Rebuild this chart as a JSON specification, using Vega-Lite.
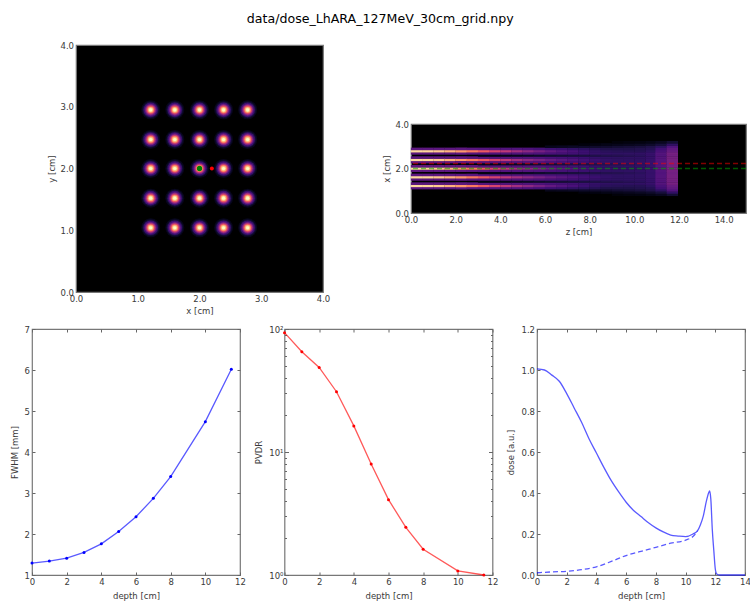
{"$schema":"https://vega.github.io/schema/vega-lite/v6.json","padding":{"left":9,"right":4,"top":12,"bottom":5},"title":{"text":"data/dose_LhARA_127MeV_30cm_grid.npy","font":"DejaVu Sans","fontSize":12.6,"fontWeight":"normal","color":"#000","offset":15,"anchor":"middle"},"config":{"font":"DejaVu Sans","view":{"stroke":"#777","strokeWidth":1.2},"axis":{"labelFont":"DejaVu Sans","titleFont":"DejaVu Sans","labelFontSize":8.5,"titleFontSize":8.5,"titleFontWeight":"normal","labelColor":"#3a3a3a","titleColor":"#3a3a3a","grid":false,"domain":false,"tickColor":"#666","tickSize":-3,"labelPadding":5.5,"titlePadding":5,"labelOverlap":false,"labelFlush":false}},"spacing":8,"vconcat":[{"spacing":0,"hconcat":[{"data":{"values":[]},"mark":{"type":"rule"},"encoding":{},"width":14,"height":10,"view":{"stroke":null}},{"spacing":88,"bounds":"flush","center":true,"hconcat":[{"width":247,"height":247,"view":{"fill":"#000","stroke":"#777"},"data":{"values":[{"x":1.21,"y":1.04},{"x":1.6,"y":1.04},{"x":2,"y":1.04},{"x":2.39,"y":1.04},{"x":2.78,"y":1.04},{"x":1.21,"y":1.52},{"x":1.6,"y":1.52},{"x":2,"y":1.52},{"x":2.39,"y":1.52},{"x":2.78,"y":1.52},{"x":1.21,"y":2},{"x":1.6,"y":2},{"x":2,"y":2},{"x":2.39,"y":2},{"x":2.78,"y":2},{"x":1.21,"y":2.47},{"x":1.6,"y":2.47},{"x":2,"y":2.47},{"x":2.39,"y":2.47},{"x":2.78,"y":2.47},{"x":1.21,"y":2.95},{"x":1.6,"y":2.95},{"x":2,"y":2.95},{"x":2.39,"y":2.95},{"x":2.78,"y":2.95}]},"encoding":{"x":{"field":"x","type":"quantitative","title":"x [cm]","scale":{"domain":[0,4],"nice":false},"axis":{"values":[0,1,2,3,4],"format":".1f","ticks":false,"labelPadding":2.5,"titlePadding":3.5}},"y":{"field":"y","type":"quantitative","title":"y [cm]","scale":{"domain":[0,4],"nice":false},"axis":{"values":[0,1,2,3,4],"format":".1f","ticks":false,"labelPadding":2.5,"titlePadding":3.5}}},"layer":[{"mark":{"type":"circle","size":361,"color":"#07061c","opacity":1}},{"mark":{"type":"circle","size":276,"color":"#140e36","opacity":1}},{"mark":{"type":"circle","size":213,"color":"#3b0f70","opacity":1}},{"mark":{"type":"circle","size":149,"color":"#641a80","opacity":1}},{"mark":{"type":"circle","size":112,"color":"#8c2981","opacity":1}},{"mark":{"type":"circle","size":85,"color":"#b73779","opacity":1}},{"mark":{"type":"circle","size":64,"color":"#de4968","opacity":1}},{"mark":{"type":"circle","size":46,"color":"#f7705c","opacity":1}},{"mark":{"type":"circle","size":34,"color":"#fe9f6d","opacity":1}},{"mark":{"type":"circle","size":21,"color":"#fecf92","opacity":1}},{"mark":{"type":"circle","size":10,"color":"#fcfdbf","opacity":1}},{"data":{"values":[{"x":2,"y":2,"spot":"central"}]},"mark":{"type":"circle","size":28,"color":"#008000","opacity":1}},{"data":{"values":[{"x":2.2,"y":2,"spot":"valley"}]},"mark":{"type":"circle","size":16,"color":"#ff0000","opacity":1}}]},{"width":335,"height":89,"view":{"fill":"#000","stroke":"#777"},"layer":[{"data":{"values":[
{"z":0.25,"x":1.12,"d":0.3},{"z":0.25,"x":1.22,"d":1},{"z":0.25,"x":1.32,"d":0.3},{"z":0.25,"x":1.51,"d":0.3},{"z":0.25,"x":1.61,"d":1},{"z":0.25,"x":1.71,"d":0.3},{"z":0.25,"x":1.9,"d":0.3},{"z":0.25,"x":2,"d":1},{"z":0.25,"x":2.1,"d":0.3},{"z":0.25,"x":2.29,"d":0.3},{"z":0.25,"x":2.39,"d":1},{"z":0.25,"x":2.49,"d":0.3},{"z":0.25,"x":2.68,"d":0.3},{"z":0.25,"x":2.78,"d":1},{"z":0.25,"x":2.88,"d":0.3},
{"z":0.75,"x":1.12,"d":0.3},{"z":0.75,"x":1.22,"d":0.99},{"z":0.75,"x":1.32,"d":0.3},{"z":0.75,"x":1.51,"d":0.3},{"z":0.75,"x":1.61,"d":0.99},{"z":0.75,"x":1.71,"d":0.3},{"z":0.75,"x":1.9,"d":0.3},{"z":0.75,"x":2,"d":0.99},{"z":0.75,"x":2.1,"d":0.3},{"z":0.75,"x":2.29,"d":0.3},{"z":0.75,"x":2.39,"d":0.99},{"z":0.75,"x":2.49,"d":0.3},{"z":0.75,"x":2.68,"d":0.3},{"z":0.75,"x":2.78,"d":0.99},{"z":0.75,"x":2.88,"d":0.3},
{"z":1.25,"x":1.12,"d":0.3},{"z":1.25,"x":1.22,"d":0.96},{"z":1.25,"x":1.32,"d":0.3},{"z":1.25,"x":1.51,"d":0.3},{"z":1.25,"x":1.61,"d":0.96},{"z":1.25,"x":1.71,"d":0.3},{"z":1.25,"x":1.9,"d":0.3},{"z":1.25,"x":2,"d":0.96},{"z":1.25,"x":2.1,"d":0.3},{"z":1.25,"x":2.29,"d":0.3},{"z":1.25,"x":2.39,"d":0.96},{"z":1.25,"x":2.49,"d":0.3},{"z":1.25,"x":2.68,"d":0.3},{"z":1.25,"x":2.78,"d":0.96},{"z":1.25,"x":2.88,"d":0.3},
{"z":1.75,"x":1.12,"d":0.3},{"z":1.75,"x":1.22,"d":0.91},{"z":1.75,"x":1.32,"d":0.3},{"z":1.75,"x":1.51,"d":0.3},{"z":1.75,"x":1.61,"d":0.91},{"z":1.75,"x":1.71,"d":0.3},{"z":1.75,"x":1.9,"d":0.3},{"z":1.75,"x":2,"d":0.91},{"z":1.75,"x":2.1,"d":0.3},{"z":1.75,"x":2.29,"d":0.3},{"z":1.75,"x":2.39,"d":0.91},{"z":1.75,"x":2.49,"d":0.3},{"z":1.75,"x":2.68,"d":0.3},{"z":1.75,"x":2.78,"d":0.91},{"z":1.75,"x":2.88,"d":0.3},
{"z":2.25,"x":1.12,"d":0.3},{"z":2.25,"x":1.22,"d":0.85},{"z":2.25,"x":1.32,"d":0.3},{"z":2.25,"x":1.51,"d":0.3},{"z":2.25,"x":1.61,"d":0.85},{"z":2.25,"x":1.71,"d":0.3},{"z":2.25,"x":1.9,"d":0.3},{"z":2.25,"x":2,"d":0.85},{"z":2.25,"x":2.1,"d":0.3},{"z":2.25,"x":2.29,"d":0.3},{"z":2.25,"x":2.39,"d":0.85},{"z":2.25,"x":2.49,"d":0.3},{"z":2.25,"x":2.68,"d":0.3},{"z":2.25,"x":2.78,"d":0.85},{"z":2.25,"x":2.88,"d":0.3},
{"z":2.75,"x":1.12,"d":0.29},{"z":2.75,"x":1.22,"d":0.78},{"z":2.75,"x":1.32,"d":0.29},{"z":2.75,"x":1.51,"d":0.29},{"z":2.75,"x":1.61,"d":0.78},{"z":2.75,"x":1.71,"d":0.29},{"z":2.75,"x":1.9,"d":0.29},{"z":2.75,"x":2,"d":0.78},{"z":2.75,"x":2.1,"d":0.29},{"z":2.75,"x":2.29,"d":0.29},{"z":2.75,"x":2.39,"d":0.78},{"z":2.75,"x":2.49,"d":0.29},{"z":2.75,"x":2.68,"d":0.29},{"z":2.75,"x":2.78,"d":0.78},{"z":2.75,"x":2.88,"d":0.29},
{"z":3.25,"x":1.12,"d":0.28},{"z":3.25,"x":1.22,"d":0.7},{"z":3.25,"x":1.32,"d":0.28},{"z":3.25,"x":1.42,"d":0.03},{"z":3.25,"x":1.51,"d":0.28},{"z":3.25,"x":1.61,"d":0.7},{"z":3.25,"x":1.71,"d":0.28},{"z":3.25,"x":1.8,"d":0.03},{"z":3.25,"x":1.9,"d":0.28},{"z":3.25,"x":2,"d":0.7},{"z":3.25,"x":2.1,"d":0.28},{"z":3.25,"x":2.2,"d":0.03},{"z":3.25,"x":2.29,"d":0.28},{"z":3.25,"x":2.39,"d":0.7},{"z":3.25,"x":2.49,"d":0.28},{"z":3.25,"x":2.59,"d":0.03},{"z":3.25,"x":2.68,"d":0.28},{"z":3.25,"x":2.78,"d":0.7},{"z":3.25,"x":2.88,"d":0.28},
{"z":3.75,"x":1.12,"d":0.275},{"z":3.75,"x":1.22,"d":0.63},{"z":3.75,"x":1.32,"d":0.275},{"z":3.75,"x":1.42,"d":0.036},{"z":3.75,"x":1.51,"d":0.275},{"z":3.75,"x":1.61,"d":0.63},{"z":3.75,"x":1.71,"d":0.275},{"z":3.75,"x":1.8,"d":0.036},{"z":3.75,"x":1.9,"d":0.275},{"z":3.75,"x":2,"d":0.63},{"z":3.75,"x":2.1,"d":0.275},{"z":3.75,"x":2.2,"d":0.036},{"z":3.75,"x":2.29,"d":0.275},{"z":3.75,"x":2.39,"d":0.63},{"z":3.75,"x":2.49,"d":0.275},{"z":3.75,"x":2.59,"d":0.036},{"z":3.75,"x":2.68,"d":0.275},{"z":3.75,"x":2.78,"d":0.63},{"z":3.75,"x":2.88,"d":0.275},
{"z":4.25,"x":1.12,"d":0.27},{"z":4.25,"x":1.22,"d":0.56},{"z":4.25,"x":1.32,"d":0.27},{"z":4.25,"x":1.42,"d":0.045},{"z":4.25,"x":1.51,"d":0.27},{"z":4.25,"x":1.61,"d":0.56},{"z":4.25,"x":1.71,"d":0.27},{"z":4.25,"x":1.8,"d":0.045},{"z":4.25,"x":1.9,"d":0.27},{"z":4.25,"x":2,"d":0.56},{"z":4.25,"x":2.1,"d":0.27},{"z":4.25,"x":2.2,"d":0.045},{"z":4.25,"x":2.29,"d":0.27},{"z":4.25,"x":2.39,"d":0.56},{"z":4.25,"x":2.49,"d":0.27},{"z":4.25,"x":2.59,"d":0.045},{"z":4.25,"x":2.68,"d":0.27},{"z":4.25,"x":2.78,"d":0.56},{"z":4.25,"x":2.88,"d":0.27},
{"z":4.75,"x":1.12,"d":0.27},{"z":4.75,"x":1.22,"d":0.49},{"z":4.75,"x":1.32,"d":0.27},{"z":4.75,"x":1.42,"d":0.06},{"z":4.75,"x":1.51,"d":0.27},{"z":4.75,"x":1.61,"d":0.49},{"z":4.75,"x":1.71,"d":0.27},{"z":4.75,"x":1.8,"d":0.06},{"z":4.75,"x":1.9,"d":0.27},{"z":4.75,"x":2,"d":0.49},{"z":4.75,"x":2.1,"d":0.27},{"z":4.75,"x":2.2,"d":0.06},{"z":4.75,"x":2.29,"d":0.27},{"z":4.75,"x":2.39,"d":0.49},{"z":4.75,"x":2.49,"d":0.27},{"z":4.75,"x":2.59,"d":0.06},{"z":4.75,"x":2.68,"d":0.27},{"z":4.75,"x":2.78,"d":0.49},{"z":4.75,"x":2.88,"d":0.27},
{"z":5.25,"x":1.12,"d":0.26},{"z":5.25,"x":1.22,"d":0.43},{"z":5.25,"x":1.32,"d":0.27},{"z":5.25,"x":1.42,"d":0.072},{"z":5.25,"x":1.51,"d":0.27},{"z":5.25,"x":1.61,"d":0.43},{"z":5.25,"x":1.71,"d":0.27},{"z":5.25,"x":1.8,"d":0.072},{"z":5.25,"x":1.9,"d":0.27},{"z":5.25,"x":2,"d":0.43},{"z":5.25,"x":2.1,"d":0.27},{"z":5.25,"x":2.2,"d":0.072},{"z":5.25,"x":2.29,"d":0.27},{"z":5.25,"x":2.39,"d":0.43},{"z":5.25,"x":2.49,"d":0.27},{"z":5.25,"x":2.59,"d":0.072},{"z":5.25,"x":2.68,"d":0.27},{"z":5.25,"x":2.78,"d":0.43},{"z":5.25,"x":2.88,"d":0.26},
{"z":5.75,"x":1.12,"d":0.24},{"z":5.75,"x":1.22,"d":0.37},{"z":5.75,"x":1.32,"d":0.263},{"z":5.75,"x":1.42,"d":0.088},{"z":5.75,"x":1.51,"d":0.263},{"z":5.75,"x":1.61,"d":0.38},{"z":5.75,"x":1.71,"d":0.263},{"z":5.75,"x":1.8,"d":0.088},{"z":5.75,"x":1.9,"d":0.263},{"z":5.75,"x":2,"d":0.38},{"z":5.75,"x":2.1,"d":0.263},{"z":5.75,"x":2.2,"d":0.088},{"z":5.75,"x":2.29,"d":0.263},{"z":5.75,"x":2.39,"d":0.38},{"z":5.75,"x":2.49,"d":0.263},{"z":5.75,"x":2.59,"d":0.088},{"z":5.75,"x":2.68,"d":0.263},{"z":5.75,"x":2.78,"d":0.37},{"z":5.75,"x":2.88,"d":0.24},
{"z":6.25,"x":1.02,"d":0.05},{"z":6.25,"x":1.12,"d":0.22},{"z":6.25,"x":1.22,"d":0.32},{"z":6.25,"x":1.32,"d":0.25},{"z":6.25,"x":1.42,"d":0.1},{"z":6.25,"x":1.51,"d":0.25},{"z":6.25,"x":1.61,"d":0.33},{"z":6.25,"x":1.71,"d":0.25},{"z":6.25,"x":1.8,"d":0.1},{"z":6.25,"x":1.9,"d":0.25},{"z":6.25,"x":2,"d":0.335},{"z":6.25,"x":2.1,"d":0.25},{"z":6.25,"x":2.2,"d":0.1},{"z":6.25,"x":2.29,"d":0.25},{"z":6.25,"x":2.39,"d":0.33},{"z":6.25,"x":2.49,"d":0.25},{"z":6.25,"x":2.59,"d":0.1},{"z":6.25,"x":2.68,"d":0.25},{"z":6.25,"x":2.78,"d":0.32},{"z":6.25,"x":2.88,"d":0.22},{"z":6.25,"x":2.98,"d":0.05},
{"z":6.75,"x":1.02,"d":0.06},{"z":6.75,"x":1.12,"d":0.21},{"z":6.75,"x":1.22,"d":0.28},{"z":6.75,"x":1.32,"d":0.24},{"z":6.75,"x":1.42,"d":0.11},{"z":6.75,"x":1.51,"d":0.24},{"z":6.75,"x":1.61,"d":0.295},{"z":6.75,"x":1.71,"d":0.24},{"z":6.75,"x":1.8,"d":0.11},{"z":6.75,"x":1.9,"d":0.24},{"z":6.75,"x":2,"d":0.3},{"z":6.75,"x":2.1,"d":0.24},{"z":6.75,"x":2.2,"d":0.11},{"z":6.75,"x":2.29,"d":0.24},{"z":6.75,"x":2.39,"d":0.295},{"z":6.75,"x":2.49,"d":0.24},{"z":6.75,"x":2.59,"d":0.11},{"z":6.75,"x":2.68,"d":0.24},{"z":6.75,"x":2.78,"d":0.28},{"z":6.75,"x":2.88,"d":0.21},{"z":6.75,"x":2.98,"d":0.06},
{"z":7.25,"x":1.02,"d":0.07},{"z":7.25,"x":1.12,"d":0.19},{"z":7.25,"x":1.22,"d":0.25},{"z":7.25,"x":1.32,"d":0.23},{"z":7.25,"x":1.42,"d":0.12},{"z":7.25,"x":1.51,"d":0.23},{"z":7.25,"x":1.61,"d":0.265},{"z":7.25,"x":1.71,"d":0.23},{"z":7.25,"x":1.8,"d":0.12},{"z":7.25,"x":1.9,"d":0.23},{"z":7.25,"x":2,"d":0.27},{"z":7.25,"x":2.1,"d":0.23},{"z":7.25,"x":2.2,"d":0.12},{"z":7.25,"x":2.29,"d":0.23},{"z":7.25,"x":2.39,"d":0.265},{"z":7.25,"x":2.49,"d":0.23},{"z":7.25,"x":2.59,"d":0.12},{"z":7.25,"x":2.68,"d":0.23},{"z":7.25,"x":2.78,"d":0.25},{"z":7.25,"x":2.88,"d":0.19},{"z":7.25,"x":2.98,"d":0.07},
{"z":7.75,"x":0.92,"d":0.02},{"z":7.75,"x":1.02,"d":0.08},{"z":7.75,"x":1.12,"d":0.175},{"z":7.75,"x":1.22,"d":0.215},{"z":7.75,"x":1.32,"d":0.215},{"z":7.75,"x":1.42,"d":0.13},{"z":7.75,"x":1.51,"d":0.215},{"z":7.75,"x":1.61,"d":0.235},{"z":7.75,"x":1.71,"d":0.215},{"z":7.75,"x":1.8,"d":0.13},{"z":7.75,"x":1.9,"d":0.215},{"z":7.75,"x":2,"d":0.24},{"z":7.75,"x":2.1,"d":0.215},{"z":7.75,"x":2.2,"d":0.13},{"z":7.75,"x":2.29,"d":0.215},{"z":7.75,"x":2.39,"d":0.235},{"z":7.75,"x":2.49,"d":0.215},{"z":7.75,"x":2.59,"d":0.13},{"z":7.75,"x":2.68,"d":0.215},{"z":7.75,"x":2.78,"d":0.215},{"z":7.75,"x":2.88,"d":0.175},{"z":7.75,"x":2.98,"d":0.08},{"z":7.75,"x":3.08,"d":0.02},
{"z":8.25,"x":0.92,"d":0.03},{"z":8.25,"x":1.02,"d":0.085},{"z":8.25,"x":1.12,"d":0.16},{"z":8.25,"x":1.22,"d":0.19},{"z":8.25,"x":1.32,"d":0.2},{"z":8.25,"x":1.42,"d":0.14},{"z":8.25,"x":1.51,"d":0.2},{"z":8.25,"x":1.61,"d":0.215},{"z":8.25,"x":1.71,"d":0.2},{"z":8.25,"x":1.8,"d":0.14},{"z":8.25,"x":1.9,"d":0.2},{"z":8.25,"x":2,"d":0.22},{"z":8.25,"x":2.1,"d":0.2},{"z":8.25,"x":2.2,"d":0.14},{"z":8.25,"x":2.29,"d":0.2},{"z":8.25,"x":2.39,"d":0.215},{"z":8.25,"x":2.49,"d":0.2},{"z":8.25,"x":2.59,"d":0.14},{"z":8.25,"x":2.68,"d":0.2},{"z":8.25,"x":2.78,"d":0.19},{"z":8.25,"x":2.88,"d":0.16},{"z":8.25,"x":2.98,"d":0.085},{"z":8.25,"x":3.08,"d":0.03},
{"z":8.75,"x":0.92,"d":0.04},{"z":8.75,"x":1.02,"d":0.09},{"z":8.75,"x":1.12,"d":0.14},{"z":8.75,"x":1.22,"d":0.17},{"z":8.75,"x":1.32,"d":0.19},{"z":8.75,"x":1.42,"d":0.15},{"z":8.75,"x":1.51,"d":0.19},{"z":8.75,"x":1.61,"d":0.195},{"z":8.75,"x":1.71,"d":0.19},{"z":8.75,"x":1.8,"d":0.15},{"z":8.75,"x":1.9,"d":0.19},{"z":8.75,"x":2,"d":0.2},{"z":8.75,"x":2.1,"d":0.19},{"z":8.75,"x":2.2,"d":0.15},{"z":8.75,"x":2.29,"d":0.19},{"z":8.75,"x":2.39,"d":0.195},{"z":8.75,"x":2.49,"d":0.19},{"z":8.75,"x":2.59,"d":0.15},{"z":8.75,"x":2.68,"d":0.19},{"z":8.75,"x":2.78,"d":0.17},{"z":8.75,"x":2.88,"d":0.14},{"z":8.75,"x":2.98,"d":0.09},{"z":8.75,"x":3.08,"d":0.04},
{"z":9.25,"x":0.82,"d":0.015},{"z":9.25,"x":0.92,"d":0.05},{"z":9.25,"x":1.02,"d":0.1},{"z":9.25,"x":1.12,"d":0.14},{"z":9.25,"x":1.22,"d":0.165},{"z":9.25,"x":1.32,"d":0.185},{"z":9.25,"x":1.42,"d":0.155},{"z":9.25,"x":1.51,"d":0.185},{"z":9.25,"x":1.61,"d":0.185},{"z":9.25,"x":1.71,"d":0.185},{"z":9.25,"x":1.8,"d":0.155},{"z":9.25,"x":1.9,"d":0.185},{"z":9.25,"x":2,"d":0.19},{"z":9.25,"x":2.1,"d":0.185},{"z":9.25,"x":2.2,"d":0.155},{"z":9.25,"x":2.29,"d":0.185},{"z":9.25,"x":2.39,"d":0.185},{"z":9.25,"x":2.49,"d":0.185},{"z":9.25,"x":2.59,"d":0.155},{"z":9.25,"x":2.68,"d":0.185},{"z":9.25,"x":2.78,"d":0.165},{"z":9.25,"x":2.88,"d":0.14},{"z":9.25,"x":2.98,"d":0.1},{"z":9.25,"x":3.08,"d":0.05},{"z":9.25,"x":3.18,"d":0.015},
{"z":9.75,"x":0.82,"d":0.025},{"z":9.75,"x":0.92,"d":0.06},{"z":9.75,"x":1.02,"d":0.11},{"z":9.75,"x":1.12,"d":0.14},{"z":9.75,"x":1.22,"d":0.16},{"z":9.75,"x":1.32,"d":0.187},{"z":9.75,"x":1.42,"d":0.165},{"z":9.75,"x":1.51,"d":0.187},{"z":9.75,"x":1.61,"d":0.185},{"z":9.75,"x":1.71,"d":0.187},{"z":9.75,"x":1.8,"d":0.165},{"z":9.75,"x":1.9,"d":0.187},{"z":9.75,"x":2,"d":0.19},{"z":9.75,"x":2.1,"d":0.187},{"z":9.75,"x":2.2,"d":0.165},{"z":9.75,"x":2.29,"d":0.187},{"z":9.75,"x":2.39,"d":0.185},{"z":9.75,"x":2.49,"d":0.187},{"z":9.75,"x":2.59,"d":0.165},{"z":9.75,"x":2.68,"d":0.187},{"z":9.75,"x":2.78,"d":0.16},{"z":9.75,"x":2.88,"d":0.14},{"z":9.75,"x":2.98,"d":0.11},{"z":9.75,"x":3.08,"d":0.06},{"z":9.75,"x":3.18,"d":0.025},
{"z":10.25,"x":0.82,"d":0.03},{"z":10.25,"x":0.92,"d":0.07},{"z":10.25,"x":1.02,"d":0.12},{"z":10.25,"x":1.12,"d":0.15},{"z":10.25,"x":1.22,"d":0.16},{"z":10.25,"x":1.32,"d":0.19},{"z":10.25,"x":1.42,"d":0.175},{"z":10.25,"x":1.51,"d":0.19},{"z":10.25,"x":1.61,"d":0.185},{"z":10.25,"x":1.71,"d":0.19},{"z":10.25,"x":1.8,"d":0.175},{"z":10.25,"x":1.9,"d":0.19},{"z":10.25,"x":2,"d":0.19},{"z":10.25,"x":2.1,"d":0.19},{"z":10.25,"x":2.2,"d":0.175},{"z":10.25,"x":2.29,"d":0.19},{"z":10.25,"x":2.39,"d":0.185},{"z":10.25,"x":2.49,"d":0.19},{"z":10.25,"x":2.59,"d":0.175},{"z":10.25,"x":2.68,"d":0.19},{"z":10.25,"x":2.78,"d":0.16},{"z":10.25,"x":2.88,"d":0.15},{"z":10.25,"x":2.98,"d":0.12},{"z":10.25,"x":3.08,"d":0.07},{"z":10.25,"x":3.18,"d":0.03},
{"z":10.75,"x":0.82,"d":0.04},{"z":10.75,"x":0.92,"d":0.085},{"z":10.75,"x":1.02,"d":0.14},{"z":10.75,"x":1.12,"d":0.16},{"z":10.75,"x":1.22,"d":0.18},{"z":10.75,"x":1.32,"d":0.205},{"z":10.75,"x":1.42,"d":0.2},{"z":10.75,"x":1.51,"d":0.205},{"z":10.75,"x":1.61,"d":0.205},{"z":10.75,"x":1.71,"d":0.205},{"z":10.75,"x":1.8,"d":0.2},{"z":10.75,"x":1.9,"d":0.205},{"z":10.75,"x":2,"d":0.21},{"z":10.75,"x":2.1,"d":0.205},{"z":10.75,"x":2.2,"d":0.2},{"z":10.75,"x":2.29,"d":0.205},{"z":10.75,"x":2.39,"d":0.205},{"z":10.75,"x":2.49,"d":0.205},{"z":10.75,"x":2.59,"d":0.2},{"z":10.75,"x":2.68,"d":0.205},{"z":10.75,"x":2.78,"d":0.18},{"z":10.75,"x":2.88,"d":0.16},{"z":10.75,"x":2.98,"d":0.14},{"z":10.75,"x":3.08,"d":0.085},{"z":10.75,"x":3.18,"d":0.04},
{"z":11.2,"x":0.82,"d":0.06},{"z":11.2,"x":0.92,"d":0.115},{"z":11.2,"x":1.02,"d":0.18},{"z":11.2,"x":1.12,"d":0.23},{"z":11.2,"x":1.22,"d":0.25},{"z":11.2,"x":1.32,"d":0.28},{"z":11.2,"x":1.42,"d":0.27},{"z":11.2,"x":1.51,"d":0.28},{"z":11.2,"x":1.61,"d":0.28},{"z":11.2,"x":1.71,"d":0.28},{"z":11.2,"x":1.8,"d":0.27},{"z":11.2,"x":1.9,"d":0.28},{"z":11.2,"x":2,"d":0.29},{"z":11.2,"x":2.1,"d":0.28},{"z":11.2,"x":2.2,"d":0.27},{"z":11.2,"x":2.29,"d":0.28},{"z":11.2,"x":2.39,"d":0.28},{"z":11.2,"x":2.49,"d":0.28},{"z":11.2,"x":2.59,"d":0.27},{"z":11.2,"x":2.68,"d":0.28},{"z":11.2,"x":2.78,"d":0.25},{"z":11.2,"x":2.88,"d":0.23},{"z":11.2,"x":2.98,"d":0.18},{"z":11.2,"x":3.08,"d":0.115},{"z":11.2,"x":3.18,"d":0.06},
{"z":11.7,"x":0.82,"d":0.1},{"z":11.7,"x":0.92,"d":0.19},{"z":11.7,"x":1.02,"d":0.27},{"z":11.7,"x":1.12,"d":0.31},{"z":11.7,"x":1.22,"d":0.33},{"z":11.7,"x":1.32,"d":0.37},{"z":11.7,"x":1.42,"d":0.36},{"z":11.7,"x":1.51,"d":0.37},{"z":11.7,"x":1.61,"d":0.37},{"z":11.7,"x":1.71,"d":0.37},{"z":11.7,"x":1.8,"d":0.36},{"z":11.7,"x":1.9,"d":0.37},{"z":11.7,"x":2,"d":0.38},{"z":11.7,"x":2.1,"d":0.37},{"z":11.7,"x":2.2,"d":0.36},{"z":11.7,"x":2.29,"d":0.37},{"z":11.7,"x":2.39,"d":0.37},{"z":11.7,"x":2.49,"d":0.37},{"z":11.7,"x":2.59,"d":0.36},{"z":11.7,"x":2.68,"d":0.37},{"z":11.7,"x":2.78,"d":0.33},{"z":11.7,"x":2.88,"d":0.31},{"z":11.7,"x":2.98,"d":0.27},{"z":11.7,"x":3.08,"d":0.19},{"z":11.7,"x":3.18,"d":0.1}
]},"mark":{"type":"rect","width":11.4,"height":2.6},"encoding":{"x":{"field":"z","type":"quantitative","title":"z [cm]","scale":{"domain":[0,15],"nice":false},"axis":{"values":[0,2,4,6,8,10,12,14],"format":".1f","ticks":false,"labelPadding":2.5,"titlePadding":3.5}},"y":{"field":"x","type":"quantitative","title":"x [cm]","scale":{"domain":[0,4],"nice":false},"axis":{"values":[0,2,4],"format":".1f","ticks":false,"labelPadding":2.5,"titlePadding":3.5}},"color":{"field":"d","type":"quantitative","scale":{"scheme":"magma","domain":[0,1.08]},"legend":null}}},{"data":{"values":[{"x":2.22}]},"mark":{"type":"rule","color":"#ff0000","opacity":0.5,"strokeWidth":1.5,"strokeDash":[5,3]},"encoding":{"y":{"field":"x","type":"quantitative"}}},{"data":{"values":[{"x":2}]},"mark":{"type":"rule","color":"#00a000","opacity":0.55,"strokeWidth":1.5,"strokeDash":[5,3]},"encoding":{"y":{"field":"x","type":"quantitative"}}}]}]}]},{"spacing":44.5,"bounds":"flush","hconcat":[{"width":208,"height":246,"data":{"values":[{"depth":0,"fwhm":1.29},{"depth":1,"fwhm":1.34},{"depth":2,"fwhm":1.41},{"depth":3,"fwhm":1.55},{"depth":4,"fwhm":1.76},{"depth":5,"fwhm":2.06},{"depth":6,"fwhm":2.42},{"depth":7,"fwhm":2.87},{"depth":8,"fwhm":3.4},{"depth":10,"fwhm":4.74},{"depth":11.5,"fwhm":6.02}]},"resolve":{"axis":{"x":"independent","y":"independent"}},"layer":[{"mark":{"type":"line","color":"#0000ff","opacity":0.65,"strokeWidth":1.3,"point":{"color":"#0000ff","size":9,"opacity":1}},"encoding":{"x":{"field":"depth","type":"quantitative","title":"depth [cm]","scale":{"domain":[0,12],"nice":false},"axis":{"values":[0,2,4,6,8,10,12]}},"y":{"field":"fwhm","type":"quantitative","title":"FWHM [mm]","scale":{"domain":[1,7],"nice":false},"axis":{"values":[1,2,3,4,5,6,7]}}}},{"mark":{"type":"line","opacity":0},"encoding":{"x":{"field":"depth","type":"quantitative","scale":{"domain":[0,12],"nice":false},"axis":{"orient":"top","values":[0,2,4,6,8,10,12],"labels":false,"title":null}},"y":{"field":"fwhm","type":"quantitative","scale":{"domain":[1,7],"nice":false},"axis":{"orient":"right","values":[1,2,3,4,5,6,7],"labels":false,"title":null}}}}]},{"width":208,"height":246,"data":{"values":[{"depth":0,"pvdr":93.4},{"depth":1,"pvdr":65.4},{"depth":2,"pvdr":48.7},{"depth":3,"pvdr":30.9},{"depth":4,"pvdr":16.3},{"depth":5,"pvdr":8},{"depth":6,"pvdr":4.1},{"depth":7,"pvdr":2.44},{"depth":8,"pvdr":1.62},{"depth":10,"pvdr":1.08},{"depth":11.5,"pvdr":1}]},"resolve":{"axis":{"x":"independent","y":"independent"}},"layer":[{"mark":{"type":"line","color":"#ff0000","opacity":0.65,"strokeWidth":1.3,"point":{"color":"#ff0000","size":9,"opacity":1}},"encoding":{"x":{"field":"depth","type":"quantitative","title":"depth [cm]","scale":{"domain":[0,12],"nice":false},"axis":{"values":[0,2,4,6,8,10,12]}},"y":{"field":"pvdr","type":"quantitative","title":"PVDR","scale":{"type":"log","domain":[1,100],"nice":false},"axis":{"values":[1,2,3,4,5,6,7,8,9,10,20,30,40,50,60,70,80,90,100],"labelExpr":"datum.value==100?'10²':datum.value==10?'10¹':datum.value==1?'10⁰':''","tickSize":{"condition":{"test":"datum.value==1||datum.value==10||datum.value==100","value":-4},"value":-2}}}}},{"mark":{"type":"line","opacity":0},"encoding":{"x":{"field":"depth","type":"quantitative","scale":{"domain":[0,12],"nice":false},"axis":{"orient":"top","values":[0,2,4,6,8,10,12],"labels":false,"title":null}},"y":{"field":"pvdr","type":"quantitative","scale":{"type":"log","domain":[1,100],"nice":false},"axis":{"orient":"right","values":[1,2,3,4,5,6,7,8,9,10,20,30,40,50,60,70,80,90,100],"labels":false,"title":null,"tickSize":{"condition":{"test":"datum.value==1||datum.value==10||datum.value==100","value":-4},"value":-2}}}}}]},{"width":208,"height":246,"resolve":{"axis":{"x":"independent","y":"independent"}},"layer":[{"data":{"values":[{"depth":0,"dose":1.005},{"depth":0.5,"dose":1},{"depth":1,"dose":0.975},{"depth":1.5,"dose":0.945},{"depth":2,"dose":0.885},{"depth":2.5,"dose":0.815},{"depth":3,"dose":0.745},{"depth":3.5,"dose":0.665},{"depth":4,"dose":0.595},{"depth":4.5,"dose":0.525},{"depth":5,"dose":0.46},{"depth":5.5,"dose":0.405},{"depth":6,"dose":0.355},{"depth":6.5,"dose":0.315},{"depth":7,"dose":0.285},{"depth":7.5,"dose":0.255},{"depth":8,"dose":0.23},{"depth":8.5,"dose":0.21},{"depth":9,"dose":0.195},{"depth":9.5,"dose":0.19},{"depth":10,"dose":0.187},{"depth":10.5,"dose":0.2},{"depth":10.8,"dose":0.215},{"depth":11,"dose":0.245},{"depth":11.2,"dose":0.29},{"depth":11.4,"dose":0.36},{"depth":11.55,"dose":0.4},{"depth":11.62,"dose":0.41},{"depth":11.7,"dose":0.37},{"depth":11.8,"dose":0.22},{"depth":11.9,"dose":0.12},{"depth":12,"dose":0.03},{"depth":12.1,"dose":0.005},{"depth":12.3,"dose":0},{"depth":14,"dose":0}]},"mark":{"type":"line","color":"#0000ff","opacity":0.65,"strokeWidth":1.3,"interpolate":"monotone"},"encoding":{"x":{"field":"depth","type":"quantitative","title":"depth [cm]","scale":{"domain":[0,14],"nice":false},"axis":{"values":[0,2,4,6,8,10,12,14]}},"y":{"field":"dose","type":"quantitative","title":"dose [a.u.]","scale":{"domain":[0,1.2],"nice":false},"axis":{"values":[0,0.2,0.4,0.6,0.8,1,1.2],"format":".1f"}}}},{"data":{"values":[{"depth":0,"dose":0.011},{"depth":1,"dose":0.015},{"depth":2,"dose":0.018},{"depth":3,"dose":0.026},{"depth":4,"dose":0.04},{"depth":5,"dose":0.066},{"depth":6,"dose":0.095},{"depth":7,"dose":0.115},{"depth":8,"dose":0.135},{"depth":9,"dose":0.155},{"depth":10,"dose":0.17},{"depth":10.6,"dose":0.195},{"depth":10.8,"dose":0.215}]},"mark":{"type":"line","color":"#0000ff","opacity":0.65,"strokeWidth":1.3,"strokeDash":[5,3],"interpolate":"monotone"},"encoding":{"x":{"field":"depth","type":"quantitative","scale":{"domain":[0,14],"nice":false},"axis":{"orient":"top","values":[0,2,4,6,8,10,12,14],"labels":false,"title":null}},"y":{"field":"dose","type":"quantitative","scale":{"domain":[0,1.2],"nice":false},"axis":{"orient":"right","values":[0,0.2,0.4,0.6,0.8,1,1.2],"labels":false,"title":null}}}}]}]}]}
